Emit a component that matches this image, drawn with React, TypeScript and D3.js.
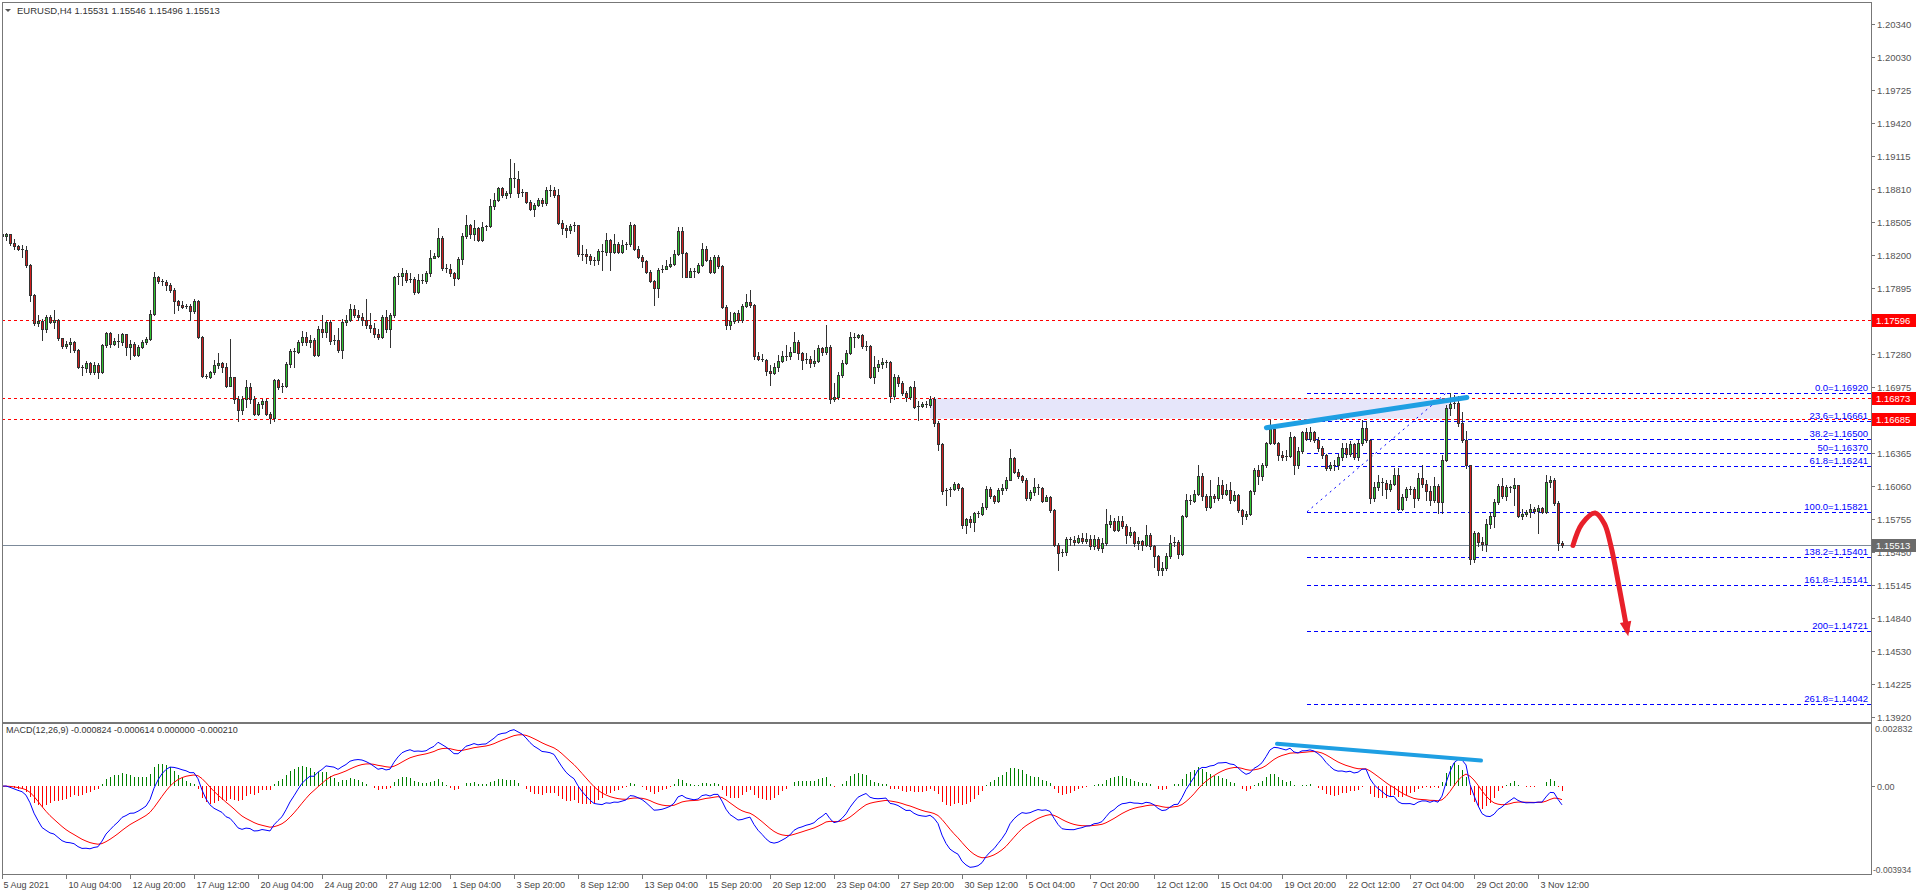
import React from 'react';
import * as d3 from 'd3';

type Bar = [number, number, number]; // [high, low, close]; open = previous close

const symbolTitle = 'EURUSD,H4  1.15531 1.15546 1.15496 1.15513';
const macdTitle = 'MACD(12,26,9) -0.000824 -0.000614 0.000000 -0.000210';

const firstOpen = 1.1839;
const augCandles: Bar[] = [
  [1.1857,1.1828,1.1838],[1.1840,1.1834,1.1839],[1.1839,1.1829,1.1831],[1.1835,1.1826,1.1828],[1.1829,1.1825,1.1826],
  [1.1829,1.1818,1.1825],[1.1828,1.1809,1.1811],[1.1812,1.1777,1.1783],[1.1784,1.1755,1.1757],[1.1764,1.1754,1.1759],
  [1.1761,1.1741,1.1751],[1.1764,1.1749,1.1763],[1.1764,1.1757,1.1758],[1.1769,1.1752,1.1760],[1.1761,1.1741,1.1743],
  [1.1743,1.1734,1.1736],[1.1740,1.1734,1.1738],[1.1743,1.1730,1.1739],[1.1740,1.1730,1.1732],[1.1733,1.1715,1.1716],
  [1.1718,1.1709,1.1715],[1.1722,1.1712,1.1720],[1.1721,1.1710,1.1712],[1.1721,1.1710,1.1718],[1.1720,1.1706,1.1712],
  [1.1738,1.1711,1.1737],[1.1749,1.1735,1.1748],[1.1749,1.1735,1.1738],[1.1743,1.1737,1.1740],[1.1747,1.1735,1.1739],
  [1.1748,1.1737,1.1747],[1.1747,1.1727,1.1735],[1.1741,1.1724,1.1738],[1.1739,1.1726,1.1727],[1.1737,1.1726,1.1735],
  [1.1741,1.1734,1.1739],[1.1744,1.1738,1.1742],[1.1769,1.1741,1.1765],[1.1804,1.1764,1.1800],[1.1801,1.1794,1.1796],
  [1.1798,1.1792,1.1795],[1.1797,1.1788,1.1792],[1.1794,1.1786,1.1788],[1.1789,1.1766,1.1777],[1.1778,1.1769,1.1774],
  [1.1777,1.1771,1.1772],[1.1775,1.1771,1.1773],[1.1775,1.1760,1.1768],[1.1779,1.1766,1.1777],[1.1778,1.1743,1.1744],
  [1.1745,1.1707,1.1708],[1.1710,1.1706,1.1707],[1.1713,1.1706,1.1712],[1.1723,1.1710,1.1718],[1.1729,1.1715,1.1720],
  [1.1721,1.1712,1.1716],[1.1720,1.1698,1.1699],[1.1742,1.1699,1.1707],[1.1707,1.1683,1.1687],[1.1689,1.1666,1.1676],
  [1.1689,1.1673,1.1687],[1.1704,1.1679,1.1698],[1.1701,1.1683,1.1687],[1.1689,1.1672,1.1673],[1.1684,1.1672,1.1682],
  [1.1687,1.1678,1.1685],[1.1687,1.1672,1.1673],[1.1675,1.1664,1.1669],[1.1705,1.1666,1.1704],[1.1705,1.1696,1.1698],
  [1.1701,1.1693,1.1699],[1.1721,1.1698,1.1719],[1.1733,1.1716,1.1731],[1.1734,1.1716,1.1730],[1.1741,1.1729,1.1739],
  [1.1750,1.1737,1.1744],[1.1749,1.1737,1.1739],[1.1746,1.1735,1.1741],[1.1743,1.1726,1.1727],[1.1754,1.1726,1.1751],
  [1.1764,1.1744,1.1749],[1.1760,1.1744,1.1758],[1.1760,1.1738,1.1740],[1.1746,1.1738,1.1741],[1.1752,1.1730,1.1732],
  [1.1761,1.1725,1.1758],[1.1764,1.1755,1.1760],[1.1775,1.1759,1.1770],[1.1774,1.1763,1.1764],[1.1769,1.1760,1.1763],
  [1.1766,1.1755,1.1760],[1.1779,1.1752,1.1755],[1.1766,1.1749,1.1752],[1.1757,1.1744,1.1747],[1.1751,1.1742,1.1744],
  [1.1764,1.1743,1.1763],[1.1769,1.1749,1.1751],[1.1766,1.1735,1.1764],[1.1801,1.1763,1.1800],[1.1803,1.1793,1.1801],
  [1.1808,1.1792,1.1803],[1.1806,1.1795,1.1797],[1.1803,1.1795,1.1798],[1.1800,1.1784,1.1786],[1.1802,1.1785,1.1797],
  [1.1802,1.1794,1.1796],[1.1805,1.1794,1.1803],[1.1825,1.1801,1.1817],[1.1822,1.1817,1.1819],[1.1845,1.1818,1.1836],
  [1.1838,1.1806,1.1808],
];
const sepCandles: Bar[] = [
  [1.1812,1.1804,1.1807],[1.1812,1.1801,1.1803],[1.1804,1.1792,1.1799],[1.1818,1.1798,1.1816],[1.1840,1.1812,1.1838],
  [1.1857,1.1836,1.1848],[1.1849,1.1836,1.1839],[1.1852,1.1834,1.1845],[1.1846,1.1833,1.1834],[1.1851,1.1833,1.1846],
  [1.1848,1.1843,1.1847],[1.1872,1.1846,1.1865],[1.1877,1.1863,1.1871],[1.1883,1.1870,1.1882],[1.1883,1.1874,1.1876],
  [1.1879,1.1873,1.1877],[1.1909,1.1874,1.1891],[1.1905,1.1883,1.1890],[1.1898,1.1874,1.1877],[1.1881,1.1875,1.1878],
  [1.1873,1.1868,1.1869],[1.1871,1.1862,1.1863],[1.1868,1.1856,1.1866],[1.1873,1.1865,1.1871],[1.1873,1.1865,1.1868],
  [1.1883,1.1866,1.1880],[1.1885,1.1875,1.1880],[1.1883,1.1874,1.1876],[1.1881,1.1849,1.1850],[1.1852,1.1839,1.1845],
  [1.1848,1.1837,1.1843],[1.1849,1.1840,1.1847],[1.1851,1.1842,1.1848],[1.1847,1.1819,1.1821],[1.1829,1.1815,1.1821],
  [1.1826,1.1813,1.1819],[1.1821,1.1812,1.1815],[1.1818,1.1811,1.1815],[1.1826,1.1812,1.1824],[1.1830,1.1806,1.1823],
  [1.1840,1.1820,1.1834],[1.1835,1.1806,1.1823],[1.1839,1.1822,1.1830],[1.1832,1.1822,1.1823],[1.1834,1.1822,1.1829],
  [1.1832,1.1826,1.1830],[1.1851,1.1828,1.1848],[1.1849,1.1825,1.1826],[1.1828,1.1817,1.1818],[1.1820,1.1809,1.1814],
  [1.1815,1.1803,1.1804],[1.1806,1.1795,1.1796],[1.1797,1.1774,1.1789],[1.1808,1.1781,1.1806],[1.1811,1.1804,1.1807],
  [1.1815,1.1808,1.1810],[1.1818,1.1809,1.1812],[1.1825,1.1811,1.1821],[1.1846,1.1820,1.1842],[1.1846,1.1800,1.1822],
  [1.1823,1.1800,1.1800],[1.1808,1.1800,1.1805],[1.1808,1.1800,1.1804],[1.1813,1.1803,1.1811],[1.1831,1.1810,1.1826],
  [1.1828,1.1814,1.1815],[1.1818,1.1803,1.1804],[1.1820,1.1803,1.1818],[1.1820,1.1808,1.1810],[1.1811,1.1771,1.1772],
  [1.1774,1.1751,1.1755],[1.1767,1.1751,1.1759],[1.1767,1.1757,1.1766],[1.1769,1.1758,1.1760],[1.1775,1.1758,1.1773],
  [1.1784,1.1772,1.1776],[1.1788,1.1772,1.1774],[1.1775,1.1724,1.1726],[1.1730,1.1723,1.1724],[1.1728,1.1722,1.1723],
  [1.1724,1.1709,1.1713],[1.1718,1.1700,1.1711],[1.1720,1.1710,1.1716],[1.1727,1.1713,1.1722],[1.1731,1.1721,1.1726],
  [1.1737,1.1723,1.1726],[1.1735,1.1724,1.1730],[1.1749,1.1730,1.1739],[1.1741,1.1724,1.1729],[1.1730,1.1714,1.1723],
  [1.1729,1.1720,1.1724],[1.1726,1.1716,1.1720],[1.1732,1.1717,1.1722],[1.1737,1.1721,1.1734],[1.1735,1.1727,1.1730],
  [1.1755,1.1728,1.1735],[1.1737,1.1683,1.1687],[1.1701,1.1685,1.1688],[1.1712,1.1687,1.1709],[1.1723,1.1707,1.1720],
  [1.1732,1.1719,1.1729],[1.1749,1.1728,1.1744],[1.1748,1.1735,1.1744],[1.1747,1.1743,1.1746],[1.1747,1.1734,1.1736],
  [1.1740,1.1732,1.1736],[1.1737,1.1706,1.1707],[1.1726,1.1701,1.1716],[1.1723,1.1713,1.1719],[1.1725,1.1715,1.1721],
  [1.1723,1.1716,1.1721],[1.1722,1.1684,1.1689],[1.1710,1.1687,1.1707],[1.1709,1.1699,1.1701],[1.1703,1.1690,1.1692],
  [1.1694,1.1685,1.1688],[1.1699,1.1687,1.1698],[1.1703,1.1678,1.1679],[1.1685,1.1667,1.1680],[1.1684,1.1679,1.1682],
  [1.1685,1.1679,1.1681],[1.1689,1.1679,1.1687],[1.1688,1.1662,1.1664],[1.1666,1.1639,1.1645],[1.1646,1.1599,1.1601],
  [1.1604,1.1588,1.1602],[1.1605,1.1597,1.1603],[1.1610,1.1602,1.1608],[1.1609,1.1602,1.1604],[1.1605,1.1567,1.1570],
  [1.1576,1.1562,1.1575],[1.1578,1.1568,1.1573],
];
const octCandles: Bar[] = [
  [1.1582,1.1564,1.1581],[1.1583,1.1577,1.1580],[1.1590,1.1579,1.1587],[1.1606,1.1585,1.1603],[1.1605,1.1595,1.1597],
  [1.1598,1.1590,1.1592],[1.1604,1.1591,1.1602],[1.1608,1.1599,1.1604],[1.1614,1.1602,1.1612],[1.1640,1.1612,1.1632],
  [1.1633,1.1618,1.1619],[1.1622,1.1613,1.1615],[1.1616,1.1610,1.1612],[1.1613,1.1593,1.1595],[1.1602,1.1593,1.1600],
  [1.1613,1.1598,1.1605],[1.1608,1.1599,1.1604],[1.1605,1.1591,1.1592],[1.1598,1.1592,1.1596],[1.1597,1.1582,1.1584],
  [1.1585,1.1550,1.1551],[1.1553,1.1528,1.1544],[1.1548,1.1541,1.1545],[1.1559,1.1542,1.1557],[1.1559,1.1551,1.1556],
  [1.1560,1.1551,1.1554],[1.1561,1.1553,1.1558],[1.1562,1.1553,1.1555],[1.1562,1.1553,1.1557],[1.1561,1.1548,1.1550],
  [1.1561,1.1548,1.1557],[1.1559,1.1547,1.1549],[1.1558,1.1545,1.1553],[1.1585,1.1551,1.1571],[1.1579,1.1568,1.1574],
  [1.1576,1.1564,1.1565],[1.1578,1.1564,1.1574],[1.1578,1.1567,1.1569],[1.1571,1.1553,1.1561],[1.1568,1.1559,1.1563],
  [1.1564,1.1550,1.1553],[1.1559,1.1548,1.1555],[1.1556,1.1547,1.1551],[1.1570,1.1550,1.1561],[1.1562,1.1548,1.1550],
  [1.1551,1.1531,1.1541],[1.1542,1.1524,1.1528],[1.1536,1.1524,1.1530],[1.1544,1.1528,1.1541],[1.1561,1.1539,1.1553],
  [1.1559,1.1550,1.1554],[1.1556,1.1539,1.1543],[1.1579,1.1542,1.1578],[1.1599,1.1577,1.1593],[1.1598,1.1589,1.1592],
  [1.1602,1.1591,1.1599],[1.1625,1.1598,1.1615],[1.1618,1.1593,1.1597],[1.1599,1.1584,1.1587],[1.1612,1.1586,1.1597],
  [1.1599,1.1591,1.1595],[1.1614,1.1593,1.1607],[1.1612,1.1595,1.1599],[1.1608,1.1598,1.1602],[1.1610,1.1590,1.1593],
  [1.1601,1.1592,1.1598],[1.1599,1.1582,1.1584],[1.1585,1.1571,1.1578],[1.1583,1.1575,1.1580],[1.1602,1.1579,1.1601],
  [1.1623,1.1599,1.1621],[1.1625,1.1608,1.1615],[1.1627,1.1612,1.1625],[1.1647,1.1624,1.1646],[1.1667,1.1645,1.1659],
  [1.1661,1.1645,1.1646],[1.1647,1.1630,1.1635],[1.1638,1.1630,1.1633],[1.1639,1.1630,1.1634],[1.1656,1.1633,1.1651],
  [1.1652,1.1617,1.1625],[1.1642,1.1623,1.1638],[1.1657,1.1637,1.1656],[1.1660,1.1649,1.1650],[1.1661,1.1648,1.1656],
  [1.1657,1.1647,1.1649],[1.1651,1.1638,1.1641],[1.1643,1.1632,1.1635],[1.1636,1.1621,1.1623],[1.1628,1.1621,1.1625],
  [1.1630,1.1621,1.1625],[1.1636,1.1622,1.1633],[1.1646,1.1630,1.1641],[1.1646,1.1633,1.1636],[1.1648,1.1634,1.1645],
  [1.1646,1.1631,1.1633],[1.1649,1.1630,1.1646],[1.1667,1.1644,1.1660],[1.1666,1.1647,1.1649],[1.1650,1.1590,1.1595],
  [1.1610,1.1592,1.1605],[1.1616,1.1602,1.1610],[1.1613,1.1598,1.1609],[1.1612,1.1595,1.1603],[1.1612,1.1601,1.1608],
  [1.1623,1.1607,1.1616],[1.1623,1.1584,1.1585],[1.1599,1.1584,1.1596],[1.1605,1.1593,1.1603],[1.1606,1.1599,1.1603],
  [1.1605,1.1587,1.1595],[1.1618,1.1593,1.1613],[1.1625,1.1605,1.1608],[1.1612,1.1593,1.1601],[1.1606,1.1588,1.1593],
  [1.1614,1.1591,1.1606],[1.1608,1.1581,1.1591],[1.1635,1.1581,1.1630],[1.1681,1.1629,1.1678],[1.1692,1.1672,1.1682],
  [1.1690,1.1678,1.1683],[1.1689,1.1662,1.1664],[1.1675,1.1647,1.1649],[1.1657,1.1623,1.1625],[1.1625,1.1534,1.1538],
  [1.1564,1.1536,1.1562],
];
const novCandles: Bar[] = [
  [1.1563,1.1550,1.1554],[1.1559,1.1547,1.1552],[1.1575,1.1546,1.1571],[1.1582,1.1567,1.1578],[1.1594,1.1568,1.1591],
  [1.1608,1.1589,1.1606],[1.1613,1.1595,1.1597],[1.1607,1.1593,1.1605],[1.1606,1.1600,1.1604],[1.1613,1.1588,1.1607],
  [1.1607,1.1577,1.1578],[1.1585,1.1575,1.1580],[1.1584,1.1578,1.1582],[1.1589,1.1577,1.1585],[1.1587,1.1581,1.1583],
  [1.1588,1.1562,1.1586],[1.1587,1.1581,1.1582],[1.1616,1.1581,1.1610],[1.1615,1.1605,1.1612],[1.1613,1.1588,1.1590],
  [1.1592,1.1547,1.15531],[1.15546,1.15496,1.15513],
];

const dateLabels = [
  '5 Aug 2021', '10 Aug 04:00', '12 Aug 20:00', '17 Aug 12:00', '20 Aug 04:00', '24 Aug 20:00', '27 Aug 12:00',
  '1 Sep 04:00', '3 Sep 20:00', '8 Sep 12:00', '13 Sep 04:00', '15 Sep 20:00', '20 Sep 12:00', '23 Sep 04:00',
  '27 Sep 20:00', '30 Sep 12:00', '5 Oct 04:00', '7 Oct 20:00', '12 Oct 12:00', '15 Oct 04:00', '19 Oct 20:00',
  '22 Oct 12:00', '27 Oct 04:00', '29 Oct 20:00', '3 Nov 12:00',
];
const barsPerLabel = 16;

const priceTicks = [
  '1.20340', '1.20030', '1.19725', '1.19420', '1.19115', '1.18810', '1.18505', '1.18200', '1.17895', '1.17590',
  '1.17280', '1.16975', '1.16670', '1.16365', '1.16060', '1.15755', '1.15450', '1.15145', '1.14840', '1.14530',
  '1.14225', '1.13920',
];

const redLevels = [1.17596, 1.16873, 1.16685];
const currentPrice = 1.15513;

const fibLabels = ['0.0', '23.6', '38.2', '50', '61.8', '100.0', '138.2', '161.8', '200', '261.8'];
const fibValues = [1.1692, 1.16661, 1.165, 1.1637, 1.16241, 1.15821, 1.15401, 1.15141, 1.14721, 1.14042];
const fibStartBar = 326.25;
const fibEndBar = 361;

const zoneBars = [232, 362];
const zonePrices = [1.16873, 1.16685];

const trendBars = [316.1, 366.2];
const trendPrices = [1.166, 1.1688];

const arrowBars = [392.75, 395, 398.3, 400.6, 402.2, 404.2, 406.3];
const arrowPrices = [1.1551, 1.1571, 1.1581, 1.1571, 1.1551, 1.1514, 1.1472];

const macdTrendBars = [318.75, 369.75];
const macdTrendValues = [0.0019, 0.00115];

const macdMax = 0.002832;
const macdMin = -0.003934;

const W = 1916;
const H = 896;
const LEFT = 2;
const RIGHT = 1871;
const MAIN_TOP = 2;
const MAIN_BOTTOM = 722;
const MACD_TOP = 723;
const MACD_BOTTOM = 874;

const FONT = "Tahoma, 'Liberation Sans', Arial, sans-serif";

function ema(values: number[], n: number): number[] {
  const k = 2 / (n + 1);
  const out: number[] = [];
  let e = values[0];
  values.forEach((v, i) => {
    e = i === 0 ? v : v * k + e * (1 - k);
    out.push(e);
  });
  return out;
}

export default function App() {
  const bars = [...augCandles, ...sepCandles, ...octCandles, ...novCandles];
  const candles = bars.map((b, i) => {
    const open = i === 0 ? firstOpen : bars[i - 1][2];
    const close = b[2];
    return { i, open, close, high: Math.max(b[0], open, close), low: Math.min(b[1], open, close) };
  });

  const x = d3.scaleLinear().domain([0, (RIGHT - LEFT) / 4]).range([LEFT, RIGHT]);
  const y = d3.scaleLinear().domain([1.1392, 1.2034]).range([717, 24]);
  const ym = d3.scaleLinear().domain([macdMin, macdMax]).range([MACD_BOTTOM, MACD_TOP]);

  const closes = candles.map((c) => c.close);
  const e12 = ema(closes, 12);
  const e26 = ema(closes, 26);
  const macd = closes.map((_, i) => e12[i] - e26[i]);
  const signal = ema(macd, 9);
  const hist = macd.map((m, i) => m - signal[i]);

  const px = (i: number) => Math.round(x(i)) + 0.5;
  const py = (p: number) => Math.round(y(p)) + 0.5;

  const macdLine = d3.line<number>().x((_, i) => x(i)).y((v) => ym(v));
  const arrowLine = d3
    .line<number>()
    .x((_, i) => x(arrowBars[i]))
    .y((p) => y(p))
    .curve(d3.curveCatmullRom.alpha(0.5));

  const arrowEndX = x(arrowBars[arrowBars.length - 1]);
  const arrowEndY = y(arrowPrices[arrowPrices.length - 1]);
  const prevX = x(arrowBars[arrowBars.length - 2]);
  const prevY = y(arrowPrices[arrowPrices.length - 2]);
  const ang = Math.atan2(arrowEndY - prevY, arrowEndX - prevX);
  const ah = 9;
  const headPts = [
    [arrowEndX + Math.cos(ang) * 3, arrowEndY + Math.sin(ang) * 3],
    [arrowEndX - Math.cos(ang - 0.5) * ah, arrowEndY - Math.sin(ang - 0.5) * ah],
    [arrowEndX - Math.cos(ang + 0.5) * ah, arrowEndY - Math.sin(ang + 0.5) * ah],
  ];

  const bull = '#2FC42F';
  const bear = '#D21E1E';
  const outline = '#333333';

  return (
    <svg width={W} height={H} style={{ position: 'absolute', left: 0, top: 0, background: '#fff' }} fontFamily={FONT}>
      <defs>
        <clipPath id="mainClip">
          <rect x={LEFT} y={MAIN_TOP} width={RIGHT - LEFT} height={MAIN_BOTTOM - MAIN_TOP} />
        </clipPath>
        <clipPath id="macdClip">
          <rect x={LEFT} y={MACD_TOP} width={RIGHT - LEFT} height={MACD_BOTTOM - MACD_TOP} />
        </clipPath>
      </defs>
      <rect x={0} y={0} width={W} height={H} fill="#fff" />

      {/* main panel */}
      <g clipPath="url(#mainClip)">
        <rect
          x={x(zoneBars[0])}
          y={y(zonePrices[0])}
          width={x(zoneBars[1]) - x(zoneBars[0])}
          height={y(zonePrices[1]) - y(zonePrices[0])}
          fill="#E6E6FA"
        />
        {redLevels.map((v) => (
          <line key={v} x1={LEFT} x2={RIGHT} y1={py(v)} y2={py(v)} stroke="#FF0000" strokeWidth={1} strokeDasharray="3,3" />
        ))}
        <line x1={LEFT} x2={RIGHT} y1={py(currentPrice)} y2={py(currentPrice)} stroke="#7C8A9A" strokeWidth={1} />
        {fibValues.map((v, k) => (
          <g key={k}>
            <line x1={x(fibStartBar)} x2={RIGHT} y1={py(v)} y2={py(v)} stroke="#0000FF" strokeWidth={1} strokeDasharray="4,3" />
            <text x={RIGHT - 3} y={py(v) - 2.5} textAnchor="end" fontSize={9.5} fill="#0000FF">
              {`${fibLabels[k]}=${v.toFixed(5)}`}
            </text>
          </g>
        ))}
        <line
          x1={x(fibStartBar)}
          y1={y(fibValues[5])}
          x2={x(fibEndBar)}
          y2={y(fibValues[0])}
          stroke="#0000FF"
          strokeWidth={1}
          strokeDasharray="2,4"
        />
        {candles.map((c) => {
          const cx = px(c.i);
          const yo = y(c.open);
          const yc = y(c.close);
          const top = Math.round(Math.min(yo, yc)) + 0.5;
          const bot = Math.round(Math.max(yo, yc)) + 0.5;
          const up = c.close >= c.open;
          return (
            <g key={c.i}>
              <line x1={cx} x2={cx} y1={Math.round(y(c.high))} y2={Math.round(y(c.low)) + 1} stroke={outline} strokeWidth={1} />
              {bot - top >= 2 ? (
                <rect x={cx - 1} y={top} width={2} height={bot - top} fill={up ? bull : bear} stroke={outline} strokeWidth={1} />
              ) : (
                <line x1={cx - 1.5} x2={cx + 1.5} y1={top} y2={top} stroke={outline} strokeWidth={1} />
              )}
            </g>
          );
        })}
        <line
          x1={x(trendBars[0])}
          y1={y(trendPrices[0])}
          x2={x(trendBars[1])}
          y2={y(trendPrices[1])}
          stroke="#1E9FE3"
          strokeWidth={5}
          strokeLinecap="round"
        />
        <path d={arrowLine(arrowPrices) || ''} fill="none" stroke="#E8202A" strokeWidth={5} strokeLinecap="round" />
        <polygon points={headPts.map((p) => p.join(',')).join(' ')} fill="#E8202A" stroke="#E8202A" strokeWidth={2} />
      </g>

      {/* header */}
      <path d="M5,9 L11,9 L8,12 Z" fill="#555" />
      <text x={17} y={14} fontSize={9.5} fill="#333">
        {symbolTitle}
      </text>

      {/* macd panel */}
      <g clipPath="url(#macdClip)">
        {hist.map((h, i) => (
          <line
            key={i}
            x1={px(i)}
            x2={px(i)}
            y1={Math.round(ym(0))}
            y2={Math.round(ym(h))}
            stroke={h >= 0 ? '#008000' : '#FF0000'}
            strokeWidth={1}
          />
        ))}
        <path d={macdLine(signal) || ''} fill="none" stroke="#FF0000" strokeWidth={1} />
        <path d={macdLine(macd) || ''} fill="none" stroke="#0000FF" strokeWidth={1} />
        <line
          x1={x(macdTrendBars[0])}
          y1={ym(macdTrendValues[0])}
          x2={x(macdTrendBars[1])}
          y2={ym(macdTrendValues[1])}
          stroke="#1E9FE3"
          strokeWidth={4}
          strokeLinecap="round"
        />
      </g>
      <text x={6} y={733} fontSize={9} fill="#333">
        {macdTitle}
      </text>

      {/* frames */}
      <rect x={LEFT + 0.5} y={MAIN_TOP + 0.5} width={RIGHT - LEFT} height={MAIN_BOTTOM - MAIN_TOP} fill="none" stroke="#777" />
      <rect x={LEFT + 0.5} y={MACD_TOP + 0.5} width={RIGHT - LEFT} height={MACD_BOTTOM - MACD_TOP} fill="none" stroke="#777" />

      {/* price axis */}
      {priceTicks.map((t) => (
        <g key={t}>
          <line x1={RIGHT + 1} x2={RIGHT + 4} y1={py(+t)} y2={py(+t)} stroke="#777" />
          <text x={RIGHT + 6} y={py(+t) + 3.5} fontSize={9.5} fill="#555">
            {t}
          </text>
        </g>
      ))}
      {redLevels.map((v) => (
        <g key={v}>
          <rect x={RIGHT + 1} y={py(v) - 6.5} width={W - RIGHT - 1} height={13} fill="#FF0000" />
          <text x={RIGHT + 5} y={py(v) + 3.5} fontSize={9.5} fill="#fff">
            {v.toFixed(5)}
          </text>
        </g>
      ))}
      <rect x={RIGHT + 1} y={py(currentPrice) - 6.5} width={W - RIGHT - 1} height={13} fill="#6B6B6B" />
      <text x={RIGHT + 5} y={py(currentPrice) + 3.5} fontSize={9.5} fill="#fff">
        {currentPrice.toFixed(5)}
      </text>

      {/* macd axis */}
      <text x={RIGHT + 4} y={MACD_TOP + 9} fontSize={9} fill="#555">
        {macdMax.toFixed(6)}
      </text>
      <line x1={RIGHT + 1} x2={RIGHT + 4} y1={Math.round(ym(0)) + 0.5} y2={Math.round(ym(0)) + 0.5} stroke="#777" />
      <text x={RIGHT + 6} y={ym(0) + 3.5} fontSize={9} fill="#555">
        0.00
      </text>
      <text x={RIGHT + 2} y={MACD_BOTTOM - 1} fontSize={8.5} fill="#555">
        {macdMin.toFixed(6)}
      </text>

      {/* time axis */}
      {dateLabels.map((d, k) => {
        const tx = px(k * barsPerLabel);
        return (
          <g key={d}>
            <line x1={tx} x2={tx} y1={MACD_BOTTOM + 1} y2={MACD_BOTTOM + 5} stroke="#777" />
            <text x={k === 0 ? tx + 1 : tx + 2} y={888} fontSize={9} fill="#444">
              {d}
            </text>
          </g>
        );
      })}
    </svg>
  );
}
